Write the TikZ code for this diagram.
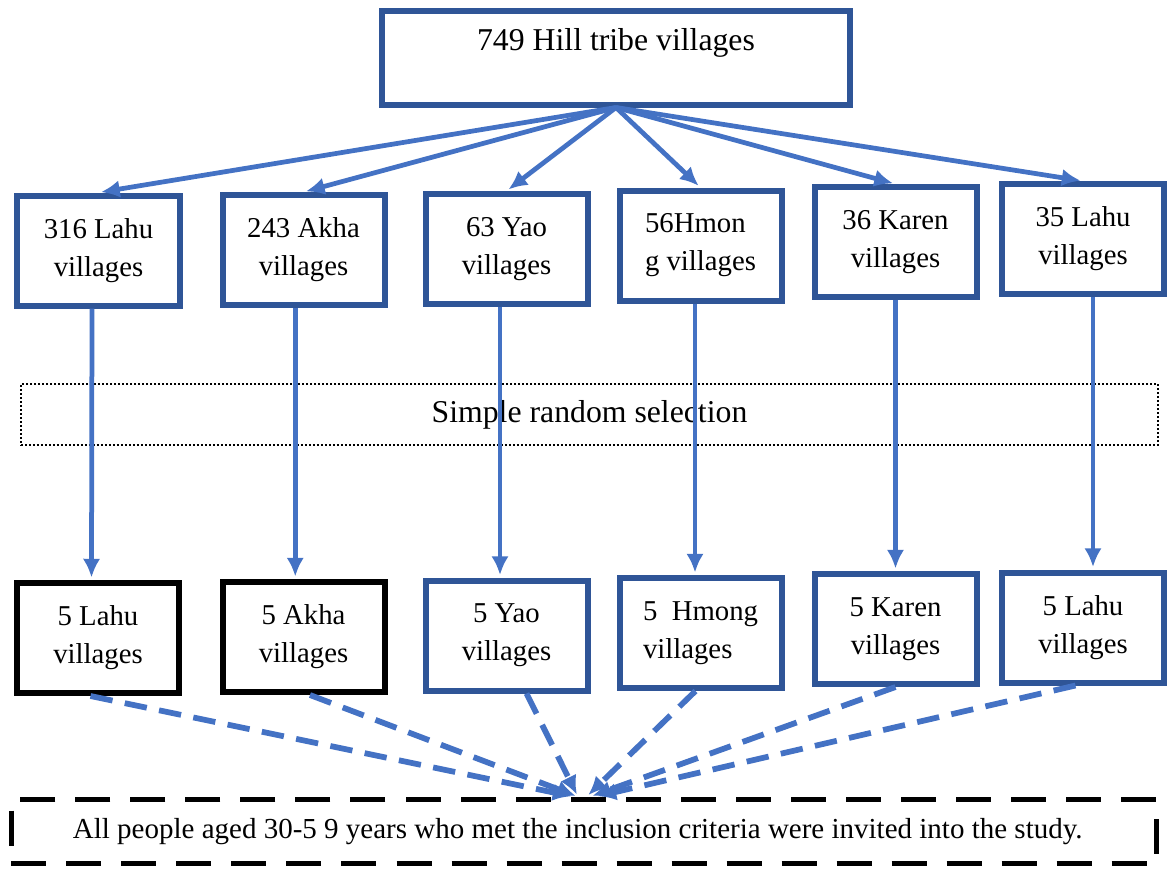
\documentclass[tikz,border=0pt]{standalone}
\usepackage{fontspec}
\setmainfont{Liberation Serif}
\usetikzlibrary{arrows,arrows.meta}
\usetikzlibrary{positioning}
\definecolor{boxblue}{HTML}{2F5597}
\definecolor{arrowblue}{HTML}{4472C4}

\begin{document}
\begin{tikzpicture}[%
        x=0.4pt, y=-0.4pt,
        every node/.style={inner sep=0pt, align=center},
        tribebox/.style={draw=boxblue, line width=2.4pt, minimum width=64.8pt, minimum height=44pt,
          font=\fontsize{11.5}{15.2}\selectfont},
        blackbox/.style={tribebox, draw=black},
        solidarrow/.style={color=arrowblue, line width=1.9pt, shorten >=1pt},
        dasharrow/.style={color=arrowblue, line width=2.3pt, dash pattern=on 9pt off 5pt, shorten >=1pt},
        >={Latex[length=7.5pt,width=7pt]}
      ]
      \useasboundingbox (0,0) rectangle (1168,869);
      % all villages
      \node [draw=boxblue, line width=2.4pt, minimum width=186.8pt, minimum height=37.6pt,
        font=\fontsize{12.7}{16}\selectfont, text height=9pt, text depth=14.5pt] (all) at (616,57.5) {749 Hill tribe villages};
      % villages by tribe
      \node [tribebox] (t1) at (98.5,250.5) {316 Lahu\\villages};
      \node [tribebox] (t2) at (303.5,250) {243 Akha\\villages};
      \node [tribebox] (t3) at (506.5,249) {63 Yao\\villages};
      \node [tribebox, align=left] (t4) at (700.5,245.5) {56Hmon\\g villages};
      \node [tribebox] (t5) at (895.5,242) {36 Karen\\villages};
      \node [tribebox] (t6) at (1083,239) {35 Lahu\\villages};
      \node [draw, line width=0.8pt, dash pattern=on 0.8pt off 0.8pt, minimum width=454.8pt, minimum height=24.4pt,
        font=\fontsize{12.7}{15}\selectfont] (rand) at (589.5,414.5) {Simple random selection};
      % selected villages
      \node [blackbox] (s1) at (98,638) {5 Lahu\\villages};
      \node [blackbox] (s2) at (303.5,637) {5 Akha\\villages};
      \node [tribebox] (s3) at (506.5,635.5) {5 Yao\\villages};
      \node [tribebox, align=left] (s4) at (700.5,633) {5~~Hmong\\villages};
      \node [tribebox] (s5) at (895.5,629) {5 Karen\\villages};
      \node [tribebox] (s6) at (1083,627.5) {5 Lahu\\villages};
      \node [draw, line width=2.2pt, dash pattern=on 14pt off 8pt, minimum width=458pt, minimum height=25.6pt,
        font=\fontsize{11.6}{14}\selectfont] (study) at (584,831.5)
        {All people aged 30-5 9 years who met the inclusion criteria were invited into the study.\hspace*{5pt}};
      \path [solidarrow] (all.south) edge[->] (t1.north)
      (all.south) edge[->] (t2.north)
      (all.south) edge[->] (t3.north)
      (all.south) edge[->] (t4.north)
      (all.south) edge[->] (t5.north)
      (all.south) edge[->] (t6.north);
      \path [solidarrow] ([xshift=-2.6pt]t1.south) edge[->] ([xshift=-2.6pt]s1.north)
      ([xshift=-3.3pt]t2.south) edge[->] ([xshift=-3.3pt]s2.north)
      ([xshift=-2.6pt]t3.south) edge[->] ([xshift=-2.6pt]s3.north)
      ([xshift=-2.2pt]t4.south) edge[->] ([xshift=-2.2pt]s4.north)
      (t5.south) edge[->] (s5.north)
      ([xshift=4pt]t6.south) edge[->] ([xshift=4pt]s6.north);
      \path [dasharrow] ([xshift=-3pt]s1.south) edge[->] ([xshift=-4pt]study.north)
      ([xshift=2.6pt]s2.south) edge[->] ([xshift=-2.4pt]study.north)
      ([xshift=8pt]s3.south) edge[->] ([xshift=-2.4pt]study.north)
      ([xshift=-2pt]s4.south) edge[->] ([xshift=1pt]study.north)
      (s5.south) edge[->] ([xshift=2.4pt]study.north)
      ([xshift=-3pt]s6.south) edge[->] ([xshift=4.4pt]study.north);
    \end{tikzpicture}
\end{document}
